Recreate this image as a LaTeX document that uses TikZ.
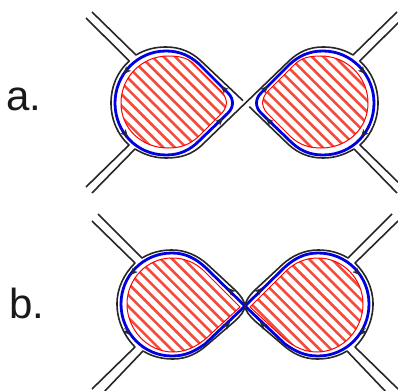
\documentclass[tikz,border=0pt]{standalone}
\usepackage{fontspec}
\setmainfont{Liberation Sans}
\usetikzlibrary{arrows.meta}
\definecolor{hatchred}{RGB}{245,75,60}
\definecolor{loopblue}{RGB}{0,0,225}
\definecolor{barb}{RGB}{35,35,70}
% #1 direction sign, #2 first offset, #3 second offset, #4 last offset
\newcommand{\hatchlines}[4]{%
  \foreach \k in {#2,#3,...,#4}{\draw[hatchstyle] (\k,0) -- ++(#1*500,500);}}
% ---- panel a, one drop
\newcommand{\redA}{(168,56) .. controls (180,56) and (187,58) .. (193,63) -- (220,90)
  .. controls (227,97) and (229,105) .. (222,113) -- (198,137)
  .. controls (189,145) and (180,148) .. (168,148)
  .. controls (142,148) and (121,129) .. (121,103)
  .. controls (121,77) and (142,56) .. (168,56) -- cycle}
\newcommand{\dropA}[4]{%
  \begin{scope}\clip \redA; \hatchlines{#1}{#2}{#3}{#4}\end{scope}
  \draw[redline] \redA;
  \draw[blueline] (166,51) .. controls (180,51) and (190,56) .. (199,64) -- (228,93)
    .. controls (234,99) and (234,107) .. (228,113) -- (199,141)
    .. controls (190,150) and (180,155) .. (166,155)
    .. controls (137,155) and (115,132) .. (115,103)
    .. controls (115,75) and (137,51) .. (166,51) -- cycle;
  \draw[blackline] (86,18) -- (129.3,61) .. controls (117,72) and (111,87) .. (111,103)
    .. controls (111,119) and (117,134) .. (129,145) -- (86,187);
  \draw[blackline] (92,12) -- (136,55) .. controls (146,49) and (156,47) .. (166,47);
  \draw[blackline] (92,193) -- (135,149) .. controls (145,155) and (155,158) .. (166,158);
  \draw[barbtip] (130,67) -- (123.5,74);
  \draw[barbtip] (122,130) -- (128,137);
  \draw[barbtip] (228,93) -- (221,86);
  \draw[barbtip] (217,124) -- (223,118);}
% ---- panel b, one drop
\newcommand{\redB}{(172,258) .. controls (184,258) and (194,262) .. (203,270)
  -- (240,307) -- (213,332)
  .. controls (200,345) and (188,352) .. (173,352)
  .. controls (147,352) and (127,329) .. (127,304)
  .. controls (127,279) and (147,258) .. (172,258) -- cycle}
\newcommand{\dropB}[4]{%
  \begin{scope}\clip \redB; \hatchlines{#1}{#2}{#3}{#4}\end{scope}
  \draw[redline] \redB;
  \draw[blueline] (172,253) .. controls (186,253) and (196,259) .. (205,267) -- (245,306) -- (205,344)
    .. controls (195,351) and (186,356) .. (172,356)
    .. controls (143,356) and (121,332) .. (121,304)
    .. controls (121,276) and (143,253) .. (172,253) -- cycle;
  \draw[blackline] (92,221) -- (135,263) .. controls (124,274) and (117,288) .. (117,304)
    .. controls (117,320) and (124,336) .. (135,347) -- (92,389);
  \draw[blackline] (98,214) -- (142,258) .. controls (152,252) and (162,250) .. (172,250)
    .. controls (186,250) and (198,256) .. (207,264) -- (235,290)
    .. controls (241,296) and (244,300) .. (245,306);
  \draw[blackline] (103,393) -- (143,351) .. controls (153,357) and (163,359) .. (173,359)
    .. controls (187,359) and (198,353) .. (207,345) -- (235,321)
    .. controls (241,315) and (244,312) .. (245,306);
  \draw[barbtip] (137,268) -- (130,275);
  \draw[barbtip] (124,328) -- (130,335);
  \draw[barbtip] (235,295) -- (228,288);
  \draw[barbtip] (224,328) -- (230,322);}
\tikzset{
  hatchstyle/.style={hatchred,line width=2.6pt},
  redline/.style={red,line width=1pt},
  blueline/.style={loopblue,line width=2.8pt},
  blackline/.style={black!85,line width=1.6pt,line join=round},
  barbtip/.style={barb,line width=0.3pt,-{Stealth[length=7.5pt,width=6.5pt,inset=2pt]}},
  plabel/.style={anchor=base west,inner sep=0pt,font=\fontsize{42}{42}\selectfont,text=black!90}
}
\begin{document}
\begin{tikzpicture}[x=1pt,y=-1pt]
\useasboundingbox (0,0) rectangle (398,390);
\clip (0,0) rectangle (398,390);
\node[plabel] (la) at (6,111) {a.};
\node[plabel] (lb) at (9,318) {b.};
% panel a
\dropA{1}{-52.6}{-41.2}{210}
\begin{scope}[xscale=-1,xshift=-489pt]
  \dropA{-1}{154}{165.4}{410}
\end{scope}
% continuous line through the crossing of panel a
\draw[blackline] (166,158) .. controls (180,158) and (192,155) .. (203,144) -- (290,60)
  .. controls (299,52) and (309,47) .. (323,47);
\draw[blackline] (166,47) .. controls (180,47) and (191,52) .. (200,60) -- (243,100.7);
\draw[blackline] (249.3,106.7) -- (289,145) .. controls (298,153) and (309,158) .. (323,158);
% panel b
\dropB{1}{-269.2}{-257.8}{10}
\begin{scope}[xscale=-1,xshift=-490pt]
  \dropB{-1}{360.2}{371.6}{580}
\end{scope}
\end{tikzpicture}
\end{document}
